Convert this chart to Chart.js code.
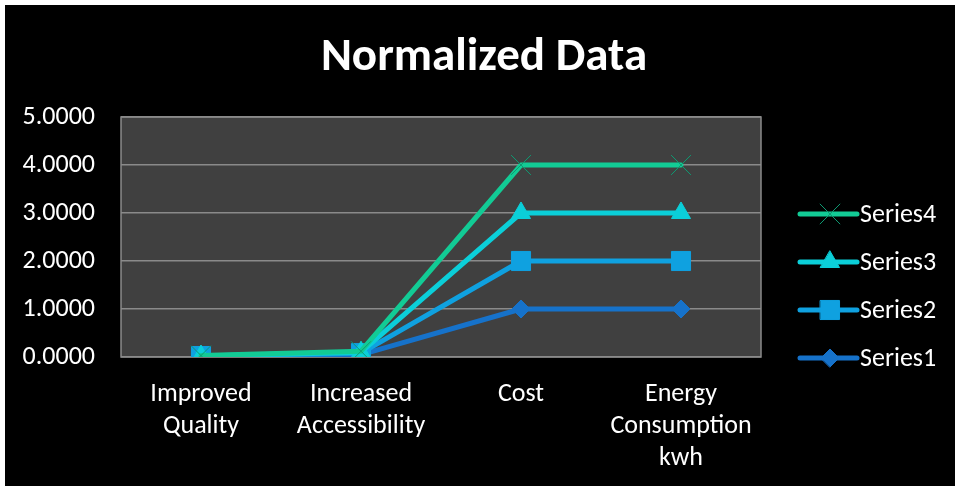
<!DOCTYPE html>
<html>
<head>
<meta charset="utf-8">
<script src="https://cdn.jsdelivr.net/npm/chart.js@4/dist/chart.umd.min.js"></script>
<style>
  html, body { margin: 0; padding: 0; background: #fff; }
  #wrap { position: absolute; left: 5px; top: 5px; width: 950px; height: 481px; background: #000; }
  canvas { display: block; }
</style>
</head>
<body>
<div id="wrap"><canvas id="c" width="950" height="481"></canvas></div>
<script>
// Category labels (multi-line) and series values
const categories = [["Improved", "Quality"], ["Increased", "Accessibility"], ["Cost"], ["Energy", "Consumption", "kwh"]];
const series1 = [0.01, 0.05, 1, 1];
const series2 = [0.02, 0.08, 2, 2];
const series3 = [0.02, 0.10, 3, 3];
const series4 = [0.03, 0.12, 4, 4];
const seriesNames = ["Series1", "Series2", "Series3", "Series4"];
const yTickValues = [0, 1, 2, 3, 4, 5];
const titleText = "Normalized Data";

const FONT = "Carlito, Lato, 'Liberation Sans', sans-serif";

const styles = [
  { color: "#1672CA", point: "rectRot", radius: 9, pointBorder: "#1672CA" },
  { color: "#0FA1E0", point: "rect", radius: 13.5, pointBorder: "#0FA1E0" },
  { color: "#0BCFD9", point: "triangle", radius: 11, pointBorder: "#0BCFD9" },
  { color: "#12CB95", point: "crossRot", radius: 14, pointBorder: "#0E9A72" }
];

const values = [series1, series2, series3, series4];

const datasets = values.map((data, i) => ({
  label: seriesNames[i],
  data: data,
  borderColor: styles[i].color,
  backgroundColor: styles[i].color,
  borderWidth: 5,
  borderCapStyle: "round",
  borderJoinStyle: "round",
  pointStyle: styles[i].point,
  pointRadius: styles[i].radius,
  pointHoverRadius: styles[i].radius,
  pointBackgroundColor: styles[i].color,
  pointBorderColor: styles[i].pointBorder,
  pointBorderWidth: 1,
  order: 3 - i,
  tension: 0
}));

// Dark plot background and frame behind the series
const plotArea = {
  id: "plotArea",
  beforeDraw(chart) {
    const { ctx, chartArea: a } = chart;
    ctx.save();
    ctx.fillStyle = "#000";
    ctx.fillRect(0, 0, chart.width, chart.height);
    ctx.fillStyle = "#404040";
    ctx.fillRect(a.left, a.top, a.right - a.left, a.bottom - a.top);
    ctx.restore();
  },
  beforeDatasetsDraw(chart) {
    const { ctx, chartArea: a } = chart;
    ctx.save();
    ctx.strokeStyle = "#8a8a8a";
    ctx.lineWidth = 1.5;
    ctx.strokeRect(a.left, a.top, a.right - a.left, a.bottom - a.top);
    ctx.restore();
  }
};

// Title centred across the whole canvas
const centredTitle = {
  id: "centredTitle",
  afterDraw(chart) {
    const { ctx } = chart;
    ctx.save();
    ctx.fillStyle = "#fff";
    ctx.font = "bold 47px " + FONT;
    ctx.textAlign = "center";
    ctx.textBaseline = "middle";
    ctx.fillText(titleText, chart.width / 2 + 4, 53);
    ctx.restore();
  }
};

// Legend on the right: line segment with the series marker, top entry is the last series
const lineLegend = {
  id: "lineLegend",
  afterDraw(chart) {
    const { ctx } = chart;
    const x0 = 795, x1 = 852, mx = 825, tx = 855;
    const y0 = 209, step = 48;
    ctx.save();
    chart.data.datasets.slice().reverse().forEach((ds, k) => {
      const y = y0 + k * step;
      ctx.strokeStyle = ds.borderColor;
      ctx.lineWidth = 5;
      ctx.lineCap = "round";
      ctx.beginPath();
      ctx.moveTo(x0, y);
      ctx.lineTo(x1, y);
      ctx.stroke();
      ctx.fillStyle = ds.pointBackgroundColor;
      ctx.strokeStyle = ds.pointBorderColor;
      ctx.lineWidth = 1;
      Chart.helpers.drawPoint(ctx, {
        pointStyle: ds.pointStyle,
        radius: ds.pointRadius,
        rotation: 0,
        borderWidth: 1
      }, mx, y);
      ctx.fillStyle = "#fff";
      ctx.font = "26px " + FONT;
      ctx.textAlign = "left";
      ctx.textBaseline = "middle";
      ctx.fillText(ds.label, tx, y + 1);
    });
    ctx.restore();
  }
};

new Chart(document.getElementById("c"), {
  type: "line",
  data: { labels: categories, datasets: datasets },
  options: {
    responsive: false,
    animation: false,
    layout: { padding: { left: 0, right: 194, top: 112, bottom: 0 } },
    plugins: {
      legend: { display: false },
      tooltip: { enabled: false },
      title: { display: false }
    },
    scales: {
      x: {
        offset: true,
        grid: { display: false, drawTicks: false },
        border: { display: false },
        ticks: {
          color: "#fff",
          padding: 22,
          maxRotation: 0,
          autoSkip: false,
          font: { family: FONT, size: 26, lineHeight: 1.23 }
        },
        afterFit(scale) { scale.height = 129; }
      },
      y: {
        min: yTickValues[0],
        max: yTickValues[yTickValues.length - 1],
        afterBuildTicks(scale) { scale.ticks = yTickValues.map(v => ({ value: v })); },
        grid: { color: "#8a8a8a", lineWidth: 1.5, drawTicks: false },
        border: { display: false },
        ticks: {
          color: "#fff",
          padding: 26,
          font: { family: FONT, size: 26 },
          callback: v => Number(v).toFixed(4)
        },
        afterFit(scale) { scale.width = 116; }
      }
    }
  },
  plugins: [plotArea, centredTitle, lineLegend]
});
</script>
</body>
</html>
